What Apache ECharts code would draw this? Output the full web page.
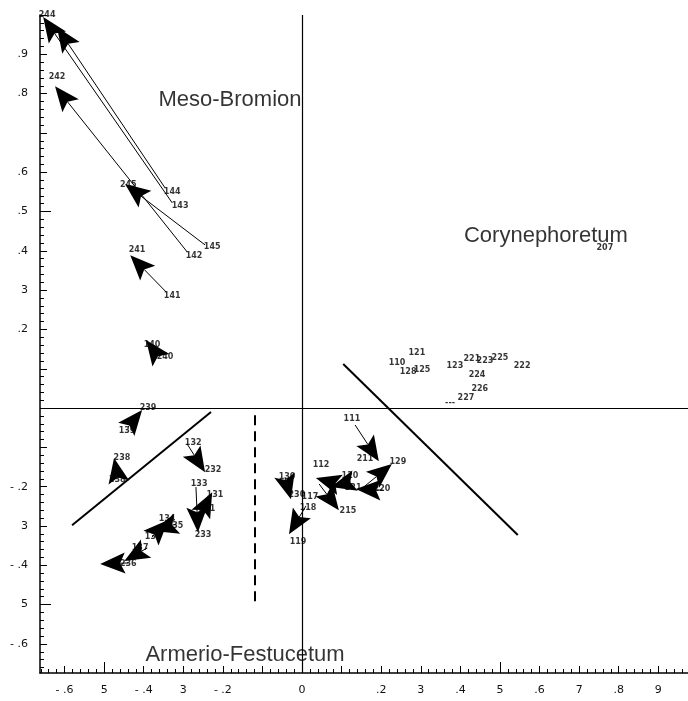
<!DOCTYPE html>
<html>
<head>
<meta charset="utf-8">
<script src="https://cdn.jsdelivr.net/npm/echarts@6/dist/echarts.min.js"></script>
<style>
  html, body { margin: 0; padding: 0; background: #fff; }
  #chart { width: 688px; height: 701px; }
</style>
</head>
<body>
<div id="chart"></div>
<script>
// 箭头：起点(1xx) -> 终点(2xx)
var arrowFrom = [
  [-0.346, 0.560], [-0.328, 0.522], [-0.290, 0.397], [-0.245, 0.415], [-0.343, 0.295],
  [-0.364, 0.132], [-0.439, -0.048], [-0.465, -0.178], [-0.290, -0.092], [-0.268, -0.201],
  [-0.253, -0.265], [-0.379, -0.328], [-0.318, -0.295], [-0.391, -0.356], [-0.439, -0.394],
  [-0.043, -0.176], [0.010, -0.249], [0.088, -0.193], [0.121, -0.188], [0.205, -0.209],
  [0.152, -0.204], [0.043, -0.193], [0.134, -0.043]
];
var arrowTo = [
  [-0.619, 0.969], [-0.654, 0.995], [-0.624, 0.819], [-0.447, 0.570], [-0.434, 0.389],
  [-0.394, 0.173], [-0.404, -0.005], [-0.475, -0.127], [-0.245, -0.163], [-0.263, -0.316],
  [-0.227, -0.214], [-0.338, -0.285], [-0.376, -0.313], [-0.449, -0.389], [-0.510, -0.397],
  [-0.028, -0.232], [-0.033, -0.321], [0.035, -0.178], [0.073, -0.201], [0.136, -0.206],
  [0.227, -0.142], [0.093, -0.260], [0.194, -0.135]
];

// 样方编号
var pointNames = [
  '244', '242', '144', '143', '245', '145', '142', '241', '141', '240', '140',
  '239', '139', '238', '138', '132', '232', '133', '131', '231', '233',
  '134', '135', '136', '137', '236',
  '130', '230', '117', '118', '119', '112', '120', '221', '220', '129', '111', '211', '215',
  '121', '110', '128', '125', '123', '221', '223', '225', '222', '224', '226', '227', '---', '207'
];
var pointX = [
  -0.644, -0.619, -0.328, -0.308, -0.439, -0.227, -0.273, -0.417, -0.328, -0.346, -0.379,
  -0.389, -0.442, -0.455, -0.467, -0.275, -0.225, -0.260, -0.220, -0.240, -0.250,
  -0.341, -0.321, -0.376, -0.409, -0.439,
  -0.038, -0.013, 0.020, 0.015, -0.010, 0.048, 0.121, 0.129, 0.202, 0.242, 0.126, 0.159, 0.116,
  0.290, 0.240, 0.268, 0.303, 0.386, 0.429, 0.462, 0.500, 0.556, 0.442, 0.449, 0.414, 0.374, 0.765
];
var pointY = [
  1.000, 0.842, 0.550, 0.514, 0.567, 0.410, 0.387, 0.402, 0.285, 0.130, 0.160,
  0.000, -0.059, -0.127, -0.183, -0.089, -0.158, -0.193, -0.221, -0.257, -0.323,
  -0.282, -0.300, -0.328, -0.356, -0.397,
  -0.176, -0.221, -0.226, -0.254, -0.341, -0.145, -0.173, -0.204, -0.206, -0.137, -0.028, -0.130, -0.262,
  0.140, 0.115, 0.092, 0.097, 0.107, 0.125, 0.120, 0.127, 0.107, 0.084, 0.048, 0.025, 0.013, 0.407
];

// 群落名称
var regionNames = ['Meso-Bromion', 'Corynephoretum', 'Armerio-Festucetum'];
var regionX = [-0.182, 0.616, -0.144];
var regionY = [0.784, 0.438, -0.628];

// 分界线
var boundaryLines = [
  [[-0.581, -0.298], [-0.230, -0.010]],
  [[0.104, 0.112], [0.545, -0.323]]
];
var dashedLine = [[-0.119, -0.018], [-0.119, -0.500]];

// 刻度标签
var xLabelValues = [-0.6, -0.5, -0.4, -0.3, -0.2, 0, 0.2, 0.3, 0.4, 0.5, 0.6, 0.7, 0.8, 0.9];
var xLabelText = ['- .6', '5', '- .4', '3', '- .2', '0', '.2', '3', '.4', '5', '.6', '7', '.8', '9'];
var yLabelValues = [0.9, 0.8, 0.6, 0.5, 0.4, 0.3, 0.2, -0.2, -0.3, -0.4, -0.5, -0.6];
var yLabelText = ['.9', '.8', '.6', '.5', '.4', '3', '.2', '- .2', '3', '- .4', '5', '- .6'];

var xMin = -0.662, xMax = 0.975, yMin = -0.674, yMax = 1.0;

function steps(a, b, s) {
  var out = [];
  for (var k = Math.ceil(a / s - 1e-9); k * s <= b + 1e-9; k++) {
    out.push(Math.round(k * s * 1000) / 1000);
  }
  return out;
}
function lookup(vals, texts) {
  return function (v) {
    for (var i = 0; i < vals.length; i++) {
      if (Math.abs(vals[i] - v) < 1e-6) return texts[i];
    }
    return '';
  };
}

var tickFont = { fontFamily: 'DejaVu Sans', fontSize: 11, color: '#111' };

function makeX(ticks, len, withLine, withLabel) {
  return {
    type: 'value', min: xMin, max: xMax, position: 'bottom',
    axisLine: { show: withLine, onZero: false, lineStyle: { color: '#000', width: 1.5 } },
    axisTick: { show: true, inside: true, length: len, customValues: ticks, lineStyle: { color: '#000', width: 1 } },
    axisLabel: withLabel ? Object.assign({ show: true, margin: 12, customValues: xLabelValues,
      formatter: lookup(xLabelValues, xLabelText) }, tickFont) : { show: false },
    splitLine: { show: false }
  };
}
function makeY(ticks, len, withLine, withLabel) {
  return {
    type: 'value', min: yMin, max: yMax, position: 'left',
    axisLine: { show: withLine, onZero: false, lineStyle: { color: '#000', width: 1.5 } },
    axisTick: { show: true, inside: true, length: len, customValues: ticks, lineStyle: { color: '#000', width: 1 } },
    axisLabel: withLabel ? Object.assign({ show: true, margin: 12, customValues: yLabelValues,
      formatter: lookup(yLabelValues, yLabelText) }, tickFont) : { show: false },
    splitLine: { show: false }
  };
}

var arrowData = [];
for (var i = 0; i < arrowFrom.length; i++) {
  arrowData.push([arrowFrom[i][0], arrowFrom[i][1], arrowTo[i][0], arrowTo[i][1]]);
}
var pointData = [];
for (var j = 0; j < pointNames.length; j++) {
  pointData.push({ name: pointNames[j], value: [pointX[j], pointY[j]] });
}
var regionData = [];
for (var r = 0; r < regionNames.length; r++) {
  regionData.push({ name: regionNames[r], value: [regionX[r], regionY[r]] });
}

function renderArrow(params, api) {
  var p1 = api.coord([api.value(0), api.value(1)]);
  var p2 = api.coord([api.value(2), api.value(3)]);
  var dx = p2[0] - p1[0], dy = p2[1] - p1[1];
  var d = Math.sqrt(dx * dx + dy * dy) || 1;
  var ux = dx / d, uy = dy / d, nx = -uy, ny = ux;
  var L = 25, W = 21, notch = 5;
  var bx = p2[0] - ux * L, by = p2[1] - uy * L;
  var mx = p2[0] - ux * (L - notch), my = p2[1] - uy * (L - notch);
  return {
    type: 'group',
    children: [
      { type: 'line', shape: { x1: p1[0], y1: p1[1], x2: mx, y2: my },
        style: { stroke: '#000', lineWidth: 1 } },
      { type: 'polygon', shape: { points: [
          [p2[0], p2[1]], [bx + nx * W / 2, by + ny * W / 2], [mx, my], [bx - nx * W / 2, by - ny * W / 2]
        ] }, style: { fill: '#000' } }
    ]
  };
}

var myChart = echarts.init(document.getElementById('chart'));
myChart.setOption({
  backgroundColor: '#fff',
  animation: false,
  grid: { left: 40, right: 0, top: 15, bottom: 28, containLabel: false, outerBoundsMode: 'none' },
  xAxis: [
    makeX(steps(xMin, xMax, 0.1), 7, true, true),
    makeX(steps(xMin, xMax, 0.02), 4, false, false),
    makeX([-0.5, 0, 0.5], 11, false, false)
  ],
  yAxis: [
    makeY(steps(yMin, yMax, 0.1), 7, true, true),
    makeY(steps(yMin, yMax, 0.02), 4, false, false),
    makeY([-0.5, 0, 0.5], 11, false, false)
  ],
  series: [
    {
      type: 'lines',
      coordinateSystem: 'cartesian2d',
      polyline: false,
      lineStyle: { color: '#000', width: 2, opacity: 1 },
      data: boundaryLines.map(function (c) { return { coords: c }; }),
      markLine: {
        silent: true, symbol: 'none', label: { show: false },
        lineStyle: { color: '#000', type: 'solid', width: 1.2 },
        data: [{ xAxis: 0 }, { yAxis: 0 }]
      }
    },
    {
      type: 'lines',
      coordinateSystem: 'cartesian2d',
      lineStyle: { color: '#000', width: 2, type: [10, 6], opacity: 1 },
      data: [{ coords: dashedLine }]
    },
    {
      type: 'custom',
      renderItem: renderArrow,
      data: arrowData,
      z: 3
    },
    {
      type: 'scatter',
      symbolSize: 0,
      data: pointData,
      z: 4,
      label: {
        show: true, position: 'inside', formatter: '{b}',
        fontFamily: 'DejaVu Sans', fontSize: 8, fontWeight: 'bold', color: '#000'
      }
    },
    {
      type: 'scatter',
      symbolSize: 0,
      data: regionData,
      z: 5,
      label: {
        show: true, position: 'inside', formatter: '{b}',
        fontFamily: 'Liberation Sans', fontSize: 22, color: '#000'
      }
    }
  ]
});
</script>
</body>
</html>
